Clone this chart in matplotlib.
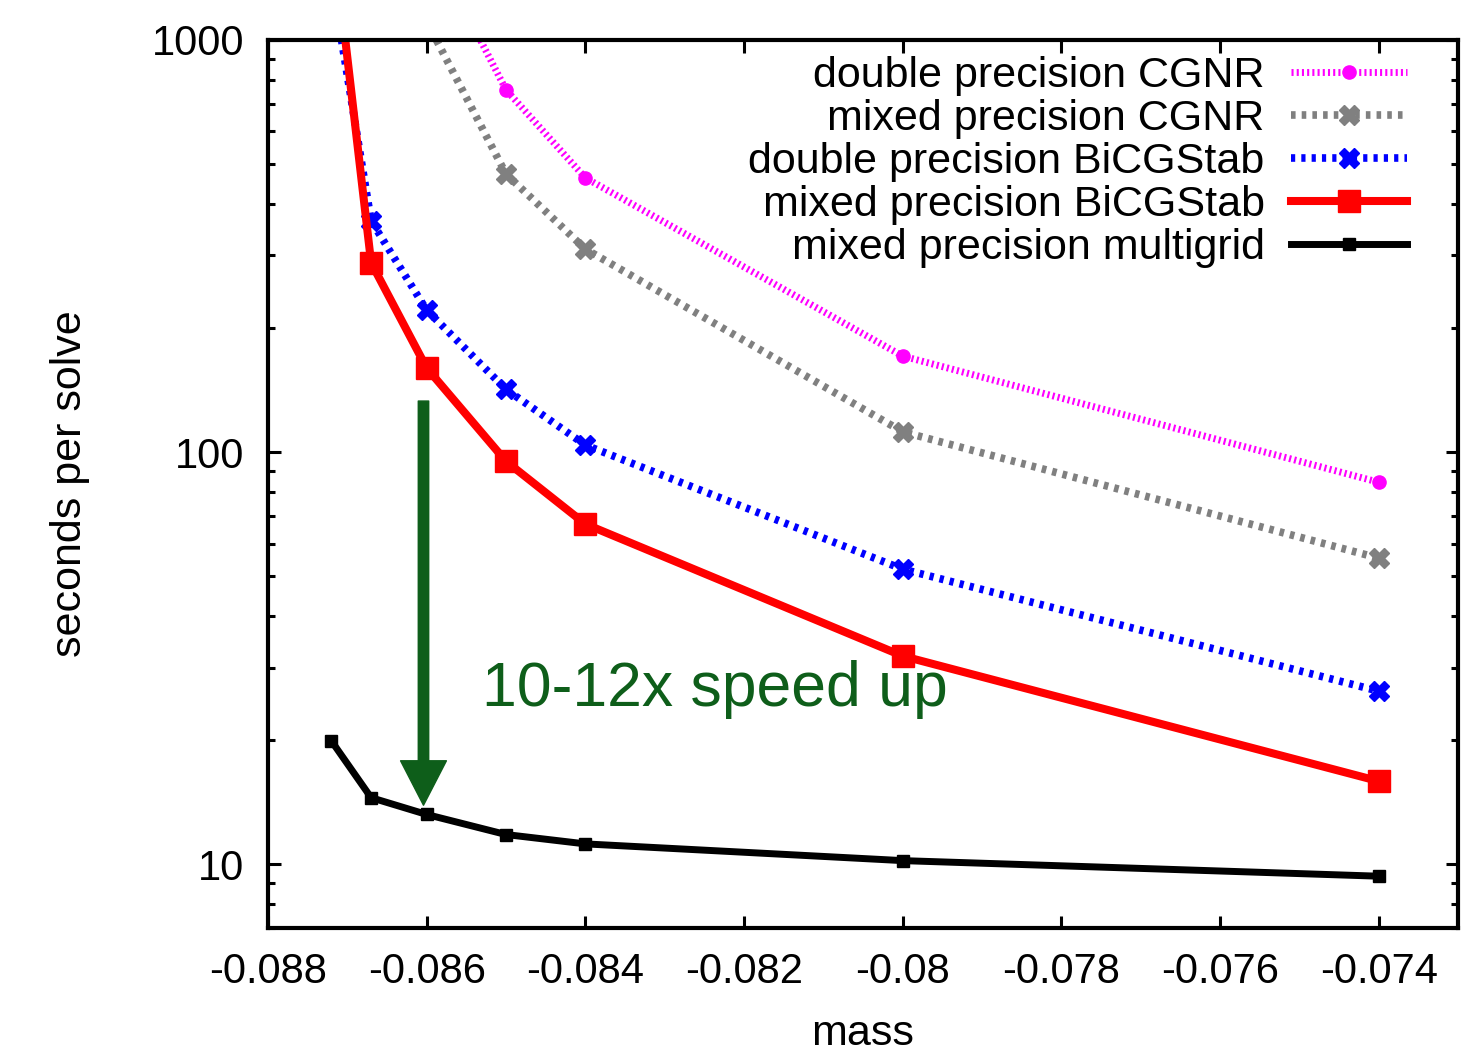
import numpy as np
import matplotlib
matplotlib.use('Agg')
from matplotlib import pyplot as plt
from matplotlib.ticker import FixedLocator, LogLocator, NullFormatter

plt.rcParams['font.family'] = ['Liberation Sans', 'DejaVu Sans']

# masses and timings (seconds per solve)
mass_cgnr = [-0.086, -0.085, -0.084, -0.080, -0.074]
double_cgnr = [1790, 757, 463, 171, 84.5]
mixed_cgnr = [1110, 473, 311, 112, 55.3]

mass_bicg = [-0.0872, -0.0867, -0.086, -0.085, -0.084, -0.080, -0.074]
double_bicg = [1410, 364, 221, 142, 104, 52, 26.3]
mixed_bicg = [1950, 288, 160, 95, 66.9, 32, 15.9]
multigrid = [19.9, 14.5, 13.2, 11.8, 11.2, 10.2, 9.35]

xticks = [-0.088, -0.086, -0.084, -0.082, -0.080, -0.078, -0.076, -0.074]
green = '#0e5e1a'

fig = plt.figure(figsize=(14.7, 10.53), dpi=100)
ax = fig.add_axes([268/1470, 1-928/1053, 1190/1470, 888/1053])

ax.plot(mass_cgnr, double_cgnr, color='#ff00ff', lw=5, linestyle=(0, (0.3, 0.45)),
        marker='o', ms=9.5, label='double precision CGNR')
ax.plot(mass_cgnr, mixed_cgnr, color='#808080', lw=5.5, linestyle=(0, (0.6, 0.8)),
        marker='X', ms=15, label='mixed precision CGNR')
ax.plot(mass_bicg, double_bicg, color='#0000ff', lw=5.5, linestyle=(0, (0.55, 0.8)),
        marker='X', ms=14, label='double precision BiCGStab')
ax.plot(mass_bicg, mixed_bicg, color='#ff0000', lw=5.8, marker='s', ms=16,
        label='mixed precision BiCGStab')
ax.plot(mass_bicg, multigrid, color='black', lw=5, marker='s', ms=9,
        label='mixed precision multigrid')

ax.annotate('', xy=(-0.08604, 13.9), xytext=(-0.08604, 133),
            arrowprops=dict(color=green, width=7.5, headwidth=33, headlength=32, shrink=0))
ax.text(-0.0853, 26.6, '10-12x speed up', color=green, fontsize=45, va='center', ha='left')

ax.set_yscale('log')
ax.set_xlim(-0.088, -0.073)
ax.set_ylim(7, 1000)
ax.xaxis.set_major_locator(FixedLocator(xticks))
ax.set_xticklabels([f'{v:g}' for v in xticks])
ax.yaxis.set_major_locator(FixedLocator([10, 100, 1000]))
ax.set_yticklabels(['10', '100', '1000'])
ax.yaxis.set_minor_locator(LogLocator(base=10, subs=np.arange(2, 10)))
ax.yaxis.set_minor_formatter(NullFormatter())

for s in ax.spines.values():
    s.set_linewidth(3)
ax.tick_params(which='both', direction='in', top=True, right=True, width=2.2)
ax.tick_params(which='major', length=9, labelsize=30, pad=17)
ax.tick_params(which='minor', length=5)

ax.set_xlabel('mass', fontsize=31)
ax.set_ylabel('seconds per solve', fontsize=31)
ax.xaxis.set_label_coords(0.5, -0.097)
ax.yaxis.set_label_coords(-0.15, 0.5)

ax.legend(loc='upper right', bbox_to_anchor=(0.957, 0.982), frameon=False, fontsize=31,
          markerfirst=False, handlelength=2.7, handletextpad=0.6, labelspacing=0.07,
          borderpad=0, borderaxespad=0)

fig.savefig('out.png', dpi=100)
